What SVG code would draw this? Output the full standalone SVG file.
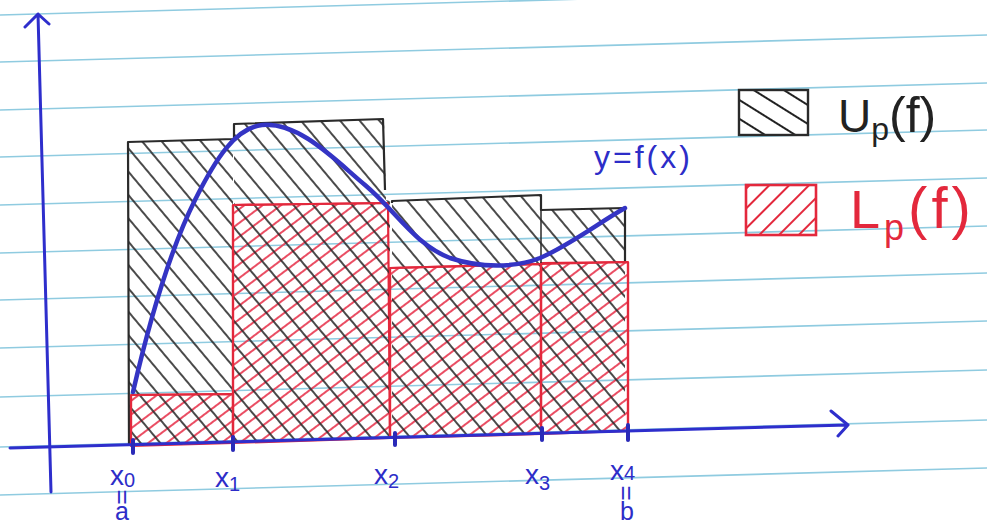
<svg xmlns="http://www.w3.org/2000/svg" width="987" height="531" viewBox="0 0 987 531">
<style>
.paper{stroke:#8fcbe0;stroke-width:1.6;fill:none}
.ax{stroke:#2e2ecc;stroke-width:3;fill:none;stroke-linecap:round;stroke-linejoin:round}
.tick{stroke:#2a2ab8;stroke-width:4;stroke-linecap:round}
.lo{fill:url(#hR);stroke:#e3283c;stroke-width:2.2;stroke-linejoin:round}
.curve{stroke:#3434c4;stroke-width:4.5;fill:none;stroke-linecap:round}
.bl{fill:#2d2dc8;font-family:"Liberation Sans","DejaVu Sans",sans-serif}
.lg{font-family:"Liberation Sans","DejaVu Sans",sans-serif}
</style>
<defs>
<pattern id="hB" width="15" height="15" patternUnits="userSpaceOnUse" patternTransform="rotate(-40)">
<line x1="3" y1="0" x2="3" y2="15" stroke="#2a2a2a" stroke-width="1.7"/>
</pattern>
<pattern id="hR" width="11" height="11" patternUnits="userSpaceOnUse" patternTransform="rotate(53)">
<line x1="3" y1="0" x2="3" y2="11" stroke="#e83a52" stroke-width="1.8"/>
</pattern>
<pattern id="hBL" width="16" height="16" patternUnits="userSpaceOnUse" patternTransform="rotate(-58)">
<line x1="3" y1="0" x2="3" y2="16" stroke="#222" stroke-width="2"/>
</pattern>
<pattern id="hRL" width="14" height="14" patternUnits="userSpaceOnUse" patternTransform="rotate(45)">
<line x1="3" y1="0" x2="3" y2="14" stroke="#e3283c" stroke-width="2"/>
</pattern>
</defs>
<rect width="987" height="531" fill="#ffffff"/>
<g id="paper-lines">
<line class="paper" x1="0" y1="15" x2="987" y2="-12"/>
<line class="paper" x1="0" y1="62" x2="987" y2="35"/>
<line class="paper" x1="0" y1="110" x2="987" y2="83"/>
<line class="paper" x1="0" y1="157" x2="987" y2="130"/>
<line class="paper" x1="0" y1="205" x2="987" y2="178"/>
<line class="paper" x1="0" y1="253" x2="987" y2="226"/>
<line class="paper" x1="0" y1="300" x2="987" y2="273"/>
<line class="paper" x1="0" y1="348" x2="987" y2="321"/>
<line class="paper" x1="0" y1="397" x2="987" y2="370"/>
<line class="paper" x1="0" y1="447" x2="987" y2="420"/>
<line class="paper" x1="0" y1="495" x2="987" y2="468"/>
</g>
<g id="lower-sums">
<polygon class="lo" points="131,395 233,394 233,443 131,446"/>
<polygon class="lo" points="233,205 388,203 390,438 233,443"/>
<polygon class="lo" points="390,268 541,264 541,434 390,438"/>
<polygon class="lo" points="541,263 628,262 628,431 541,434"/>
</g>
<g id="upper-sums">
<polygon points="128,142 233,139 233,443 128,446" fill="url(#hB)"/>
<polygon points="234,124 384,119 386,200 390,201 390,438 234,443" fill="url(#hB)"/>
<polygon points="392,201 541,195 541,434 392,438" fill="url(#hB)"/>
<polygon points="541,210 625,208 625,431 541,434" fill="url(#hB)"/>
<path d="M129,446 L128,142 L234,139 L234,124 L383,119 L385,190 M392,203 L392,201 L541,195 L541,210 L625,208 L625,262" fill="none" stroke="#2a2a2a" stroke-width="2.2" stroke-linejoin="round"/>
<path d="M233,205 L233,443 M541,195 L541,434" fill="none" stroke="#2a2a2a" stroke-width="1.5"/>
<path d="M131,395 L233,394 M233,205 L388,203 M390,268 L541,264 L628,262 M131,395 L131,446 M233,205 L233,443 M390,268 L390,438 M541,264 L541,434 M628,262 L628,431" fill="none" stroke="#e3283c" stroke-width="2.2"/>
</g>
<g id="curve">
<path class="curve" d="M133,392 C145,340 165,260 195,200 C215,160 235,128 262,125 C300,122 335,160 365,185 C395,210 415,245 450,258 C480,268 515,268 540,258 C570,245 600,222 625,208"/>
<text class="bl" x="594" y="168" font-size="32" letter-spacing="3">y=f(x)</text>
</g>
<g id="connectors">
<path class="ax" d="M51,492 L38,14 M25,27 L38,14 L49,24"/>
<path class="ax" d="M10,448 L848,425 M831,411 L848,425 L838,436"/>
</g>
<g id="ticks">
<line class="tick" x1="133" y1="440" x2="133" y2="453"/>
<line class="tick" x1="233" y1="437" x2="233" y2="450"/>
<line class="tick" x1="395" y1="433" x2="395" y2="445"/>
<line class="tick" x1="542" y1="428" x2="542" y2="440"/>
<line class="tick" x1="628" y1="425" x2="628" y2="440"/>
</g>
<g id="x-labels">
<text class="bl" x="110" y="485" font-size="28">x<tspan font-size="20" dy="2">0</tspan></text>
<text class="bl" x="215" y="487" font-size="28">x<tspan font-size="20" dy="4">1</tspan></text>
<text class="bl" x="374" y="484" font-size="28">x<tspan font-size="20" dy="4">2</tspan></text>
<text class="bl" x="525" y="484" font-size="28">x<tspan font-size="20" dy="6">3</tspan></text>
<text class="bl" x="610" y="480" font-size="28">x<tspan font-size="20" dy="0">4</tspan></text>
<text class="bl" font-size="26" transform="translate(114,497) rotate(90)" text-anchor="middle">=</text>
<text class="bl" x="122" y="520" font-size="25" text-anchor="middle">a</text>
<text class="bl" font-size="26" transform="translate(618,493) rotate(90)" text-anchor="middle">=</text>
<text class="bl" x="627" y="520" font-size="25" text-anchor="middle">b</text>
</g>
<g id="legend-upper">
<rect x="739" y="90" width="69" height="45" fill="url(#hBL)" stroke="#2a2a2a" stroke-width="2.4"/>
<text class="lg" x="838" y="132" font-size="46" fill="#222">U<tspan font-size="32" dy="8">p</tspan><tspan font-size="50" dy="-8">(f)</tspan></text>
</g>
<g id="legend-lower">
<rect x="746" y="185" width="70" height="50" fill="url(#hRL)" stroke="#e3283c" stroke-width="2.6"/>
<text class="lg" x="850" y="228" font-size="54" fill="#e3283c" letter-spacing="4">L<tspan font-size="36" dy="12">p</tspan><tspan font-size="58" dy="-12">(f)</tspan></text>
</g>
</svg>
